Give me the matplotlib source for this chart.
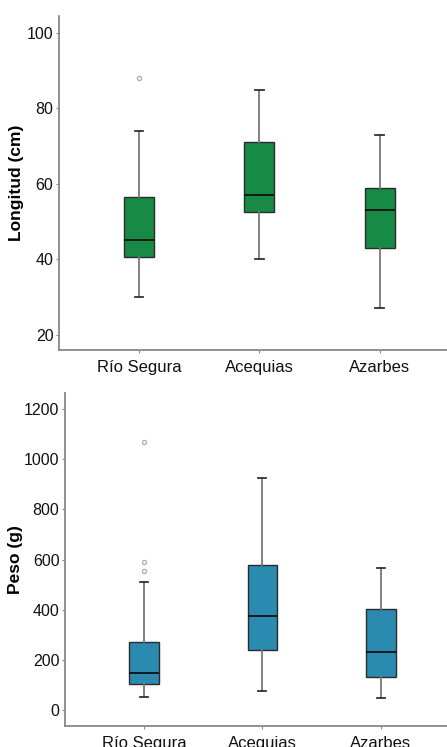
import matplotlib
matplotlib.use("Agg")
import matplotlib.pyplot as plt

plt.rcParams["font.family"] = ["Liberation Sans", "DejaVu Sans"]

categories = ["Río Segura", "Acequias", "Azarbes"]

# Longitud (cm): whisker low, Q1, median, Q3, whisker high, outliers
long_low = [30, 40, 27]
long_q1 = [40.5, 52.6, 43]
long_med = [45, 57, 53]
long_q3 = [56.5, 71, 59]
long_high = [74, 85, 73]
long_fliers = [[88], [], []]

# Peso (g)
peso_low = [53, 75, 47]
peso_q1 = [103, 241, 133]
peso_med = [146, 374, 232]
peso_q3 = [270, 578, 402]
peso_high = [510, 926, 568]
peso_fliers = [[1069, 589, 555], [], []]


def make_stats(low, q1, med, q3, high, fliers):
    stats = []
    for i, name in enumerate(categories):
        stats.append({
            "label": name, "whislo": low[i], "q1": q1[i], "med": med[i],
            "q3": q3[i], "whishi": high[i], "fliers": fliers[i],
        })
    return stats


def draw_panel(ax, stats, color, ylabel, ylim, yticks, label_x):
    ax.bxp(
        stats, positions=[1, 2, 3], widths=0.25, patch_artist=True,
        boxprops=dict(facecolor=color, edgecolor="#2b2b2b", linewidth=1.0),
        medianprops=dict(color="#111111", linewidth=1.3),
        whiskerprops=dict(color="#777777", linewidth=1.3),
        capprops=dict(color="#333333", linewidth=1.3),
        capwidths=0.07,
        flierprops=dict(marker="o", markersize=3, markerfacecolor="none",
                        markeredgecolor="#aaaaaa", markeredgewidth=0.9),
    )
    ax.set_xlim(0.333, 3.56)
    ax.set_ylim(*ylim)
    ax.set_yticks(yticks)
    ax.set_xticks([1, 2, 3])
    ax.set_xticklabels(categories)
    ax.set_ylabel(ylabel, fontsize=12.5, fontweight="bold")
    ax.yaxis.set_label_coords(label_x, 0.5)
    for side in ["top", "right"]:
        ax.spines[side].set_visible(False)
    for side in ["left", "bottom"]:
        ax.spines[side].set_color("#888888")
        ax.spines[side].set_linewidth(1.3)
    ax.tick_params(axis="both", length=2, width=0.8, color="#888888",
                   labelsize=11.5, labelcolor="#111111", pad=2)
    ax.tick_params(axis="x", labelsize=12, pad=5)


fig = plt.figure(figsize=(4.47, 7.47), dpi=100)

ax1 = fig.add_axes([59 / 447, 1 - 350 / 747, 1 - 59 / 447, 334 / 747])
draw_panel(ax1, make_stats(long_low, long_q1, long_med, long_q3, long_high, long_fliers),
           "#178A46", "Longitud (cm)", (15.9, 104.5), [20, 40, 60, 80, 100], -0.09)

ax2 = fig.add_axes([65 / 447, 1 - 726 / 747, 1 - 65 / 447, 333.3 / 747])
draw_panel(ax2, make_stats(peso_low, peso_q1, peso_med, peso_q3, peso_high, peso_fliers),
           "#2B8AAF", "Peso (g)", (-64, 1266), [0, 200, 400, 600, 800, 1000, 1200], -0.11)

fig.savefig("out.png", dpi=100)
